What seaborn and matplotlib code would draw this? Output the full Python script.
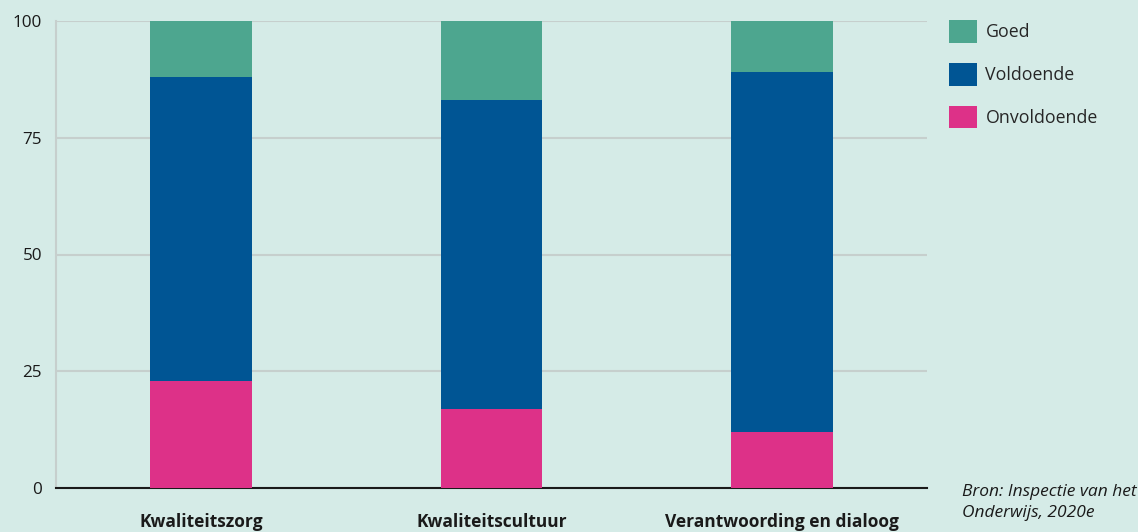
import matplotlib
matplotlib.use("Agg")
import matplotlib.pyplot as plt
import seaborn as sns
import pandas as pd
import numpy as np
from matplotlib.patches import Patch

categories = ["Kwaliteitszorg", "Kwaliteitscultuur", "Verantwoording en dialoog"]
onvoldoende = [23, 17, 12]
voldoende = [65, 66, 77]
goed = [12, 17, 11]
series_names = ["Goed", "Voldoende", "Onvoldoende"]
colors = {"Goed": "#4da68f", "Voldoende": "#005594", "Onvoldoende": "#dd3188"}
y_ticks = [0, 25, 50, 75, 100]

bg = "#d5ebe7"
sns.set_theme(style="white")
plt.rcParams["font.family"] = ["Open Sans", "DejaVu Sans"]

fig = plt.figure(figsize=(11.38, 5.32), dpi=100, facecolor=bg)
ax = fig.add_axes([56/1138, 44/532, (927-56)/1138, (488-21)/532])
ax.set_facecolor(bg)

df = pd.DataFrame({"cat": categories, "Onvoldoende": onvoldoende,
                   "Voldoende": voldoende, "Goed": goed})
df["c1"] = df["Onvoldoende"]
df["c2"] = df["c1"] + df["Voldoende"]
df["c3"] = df["c2"] + df["Goed"]

for col, name in [("c3", "Goed"), ("c2", "Voldoende"), ("c1", "Onvoldoende")]:
    sns.barplot(data=df, x="cat", y=col, color=colors[name], width=0.35,
                saturation=1, ax=ax, zorder=3, linewidth=0)

ax.set_xlim(-0.5, 2.5)
ax.set_ylim(0, 100)
ax.set_yticks(y_ticks)
ax.set_yticklabels([str(v) for v in y_ticks], fontsize=12.3, color="#1a1a1a")
ax.yaxis.grid(True, color="#c6cfcd", linewidth=1.5, zorder=0)
ax.set_axisbelow(True)
ax.set_xlabel("")
ax.set_ylabel("")
ax.set_xticks(range(len(categories)))
ax.set_xticklabels(categories, fontsize=12.5, fontweight="bold", color="#1a1a1a")
ax.tick_params(axis="x", which="major", length=0, pad=18)
ax.set_xticks([0.5, 1.5, 2.5], minor=True)
ax.tick_params(axis="x", which="minor", length=10, width=1.2, color="#1a1a1a", direction="out")
ax.tick_params(axis="y", length=0, pad=10)

for s in ["top", "right"]:
    ax.spines[s].set_visible(False)
ax.spines["left"].set_color("#c6cfcd")
ax.spines["left"].set_linewidth(1.5)
ax.spines["bottom"].set_color("#1a1a1a")
ax.spines["bottom"].set_linewidth(1.5)

handles = [Patch(facecolor=colors[n], edgecolor="none", label=n) for n in series_names]
fig.legend(handles=handles, loc="upper left", bbox_to_anchor=(949/1138, 1-20/532),
           frameon=False, fontsize=12.8, handlelength=1.6, handleheight=1.6,
           labelspacing=1.12, handletextpad=0.45, borderpad=0, borderaxespad=0)

fig.text(962/1138, 1-484/532, "Bron: Inspectie van het\nOnderwijs, 2020e",
         fontsize=12.5, style="italic", va="top", ha="left", color="#1a1a1a",
         linespacing=1.45)

fig.savefig("out.png", dpi=100, facecolor=bg)
